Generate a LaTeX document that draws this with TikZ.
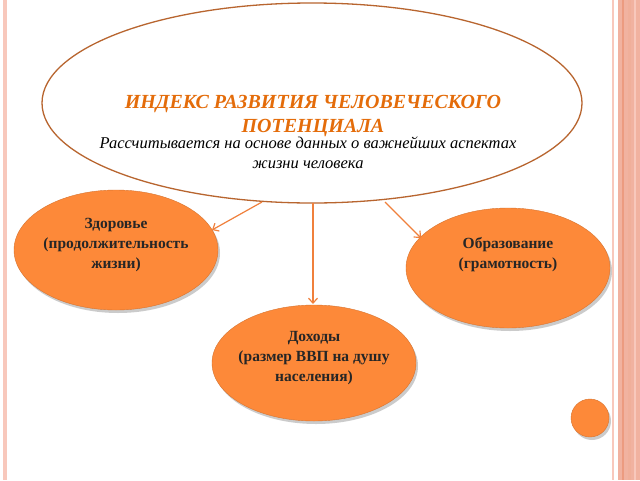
\documentclass[tikz,border=0pt]{standalone}
\usepackage{fontspec}
\setmainfont{Liberation Serif}
\usetikzlibrary{arrows.meta,shadows}
\definecolor{ttl}{RGB}{228,108,10}
\definecolor{ovl}{RGB}{184,101,47}
\definecolor{fillor}{RGB}{253,137,57}
\definecolor{arr}{RGB}{240,128,60}
\definecolor{stripeA}{RGB}{248,200,188}
\definecolor{stripeB}{RGB}{241,178,160}
\definecolor{stripeC}{RGB}{236,155,128}
\tikzset{
  topell/.style={draw=ovl, line width=1.3pt, fill=white},
  subell/.style={fill=fillor, draw=fillor!85!black, line width=0.4pt,
    drop shadow={shadow xshift=2pt, shadow yshift=-3pt, fill=black!40, opacity=0.5}},
  subtxt/.style={font=\fontsize{15.5}{20}\selectfont\bfseries, text=black!85, align=center},
  conn/.style={draw=arr, line width=1.2pt, -{Straight Barb[length=5pt,width=9pt]}},
}
\begin{document}
\begin{tikzpicture}[x=1pt,y=-1pt]
\useasboundingbox (0,0) rectangle (640,480);
\fill[white] (0,0) rectangle (640,480);
% borders
\fill[stripeA] (3,0) rectangle (7,480);
\fill[stripeA] (611.5,0) rectangle (614,480);
\fill[stripeB] (618,0) rectangle (640,480);
\fill[stripeC] (622,0) rectangle (624,480);
\fill[stripeC!80!white] (628,0) rectangle (631,480);
\fill[stripeA] (634,0) rectangle (636,480);
% top ellipse
\draw[topell] (312,103) ellipse [x radius=270, y radius=100];
\coordinate (tl) at (262,202);
\coordinate (tc) at (313,203);
\coordinate (tr) at (385,202);
\node[font=\fontsize{20}{24}\selectfont\bfseries\itshape, text=ttl, align=center] (title) at (313,116) {ИНДЕКС РАЗВИТИЯ ЧЕЛОВЕЧЕСКОГО\\ПОТЕНЦИАЛА};
\node[font=\fontsize{16.5}{20}\selectfont\itshape, text=black, align=center] (sub) at (308,153) {Рассчитывается на основе данных о важнейших аспектах\\жизни человека};
% sub ellipses
\path[subell] (116,250) ellipse [x radius=102, y radius=60];
\path[subell] (508,268) ellipse [x radius=102, y radius=60];
\path[subell] (314,363) ellipse [x radius=102, y radius=58];
\node[subtxt] (health) at (116,245) {Здоровье\\(продолжительность\\жизни)};
\node[subtxt] (edu) at (508,255) {Образование\\(грамотность)};
\node[subtxt] (inc) at (314,358) {Доходы\\(размер ВВП на душу\\населения)};
\coordinate (hl) at (212,230);
\coordinate (el) at (421,238);
\coordinate (il) at (313,304);
\draw[conn] (tl) -- (hl);
\draw[conn] (tc) -- (il);
\draw[conn] (tr) -- (el);
% small circle
\path[subell] (590,418) circle [radius=19];
\end{tikzpicture}
\end{document}
